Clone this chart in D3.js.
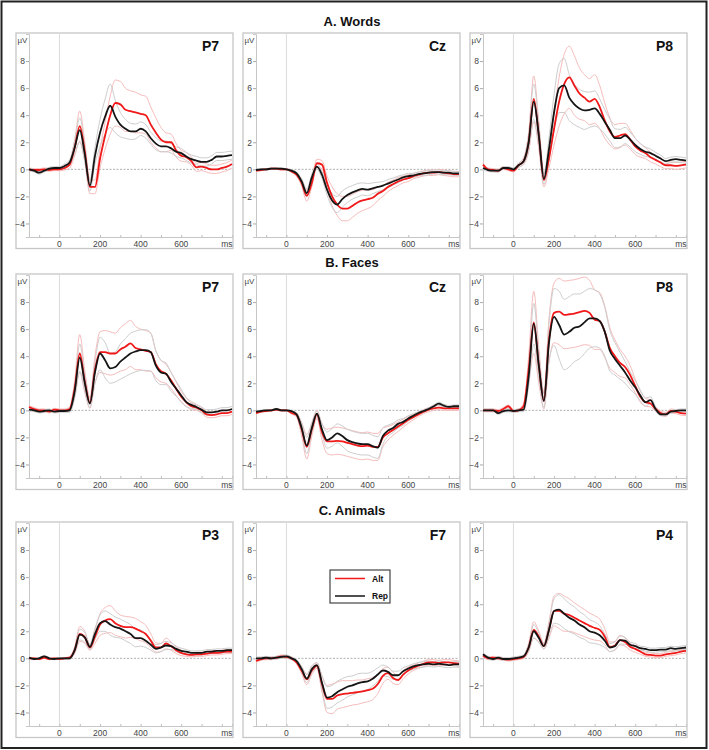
<!DOCTYPE html>
<html>
<head>
<meta charset="utf-8">
<script src="https://cdn.jsdelivr.net/npm/d3@7"></script>
<style>
  body { margin: 0; background: #fff; }
  svg { font-family: "Liberation Sans", Arial, sans-serif; }
</style>
</head>
<body>
<svg id="chart" width="709" height="750"></svg>
<script>
// sample times (ms)
const TIMES = [-150, -125, -100, -75, -50, -25, 0, 25, 50, 75, 100, 125, 150, 175, 200, 225, 250, 275, 300, 325,
  350, 375, 400, 425, 450, 475, 500, 525, 550, 575, 600, 625, 650, 675, 700, 725, 750, 775, 800, 825, 850];

const ROW_TITLES = ["A. Words", "B. Faces", "C. Animals"];
const ELECTRODES = [["P7", "Cz", "P8"], ["P7", "Cz", "P8"], ["P3", "F7", "P4"]];
const X_TICKS = [0, 200, 400, 600];
const Y_TICKS = [-4, -2, 0, 2, 4, 6, 8];
const LEGEND_LABELS = ["Alt", "Rep"];

// ---- A. Words ----
const wordsP7Alt = [0, -0.05, -0.05, 0, -0.05, 0, 0, 0.1, 0.35, 1.6, 3.2, 1.3, -1.3, -1.3, 0.8, 2.5, 4.0, 4.9, 4.8, 4.4, 4.3, 4.2, 4.1, 4.0, 3.3, 2.7, 2.2, 2.0, 2.0, 1.4, 1.0, 0.9, 0.6, 0.15, 0.2, 0.1, 0.0, 0.0, 0.1, 0.2, 0.4];
const wordsP7Rep = [0, -0.1, -0.25, -0.1, 0.05, 0.1, 0.1, 0.25, 0.5, 1.6, 2.9, 1.1, -1.2, 1.0, 2.7, 3.9, 4.7, 3.9, 3.3, 3.0, 2.8, 2.8, 3.0, 2.8, 2.3, 1.9, 1.7, 1.7, 1.55, 1.3, 1.2, 0.95, 0.75, 0.65, 0.55, 0.55, 0.7, 0.95, 0.95, 1.0, 1.05];
const wordsP7AltSem = [0.1, 0.1, 0.1, 0.1, 0.1, 0.1, 0.1, 0.15, 0.25, 0.6, 1.1, 0.7, 0.5, 0.5, 0.7, 1.0, 1.4, 1.7, 1.7, 1.6, 1.5, 1.5, 1.4, 1.4, 1.3, 1.1, 0.9, 0.7, 0.6, 0.5, 0.4, 0.35, 0.3, 0.3, 0.3, 0.3, 0.3, 0.3, 0.3, 0.3, 0.3];
const wordsP7RepSem = [0.1, 0.1, 0.1, 0.1, 0.1, 0.1, 0.1, 0.15, 0.2, 0.45, 0.9, 0.6, 0.4, 0.6, 1.0, 1.3, 1.6, 1.2, 0.9, 0.7, 0.6, 0.55, 0.5, 0.5, 0.45, 0.45, 0.4, 0.4, 0.35, 0.35, 0.35, 0.3, 0.3, 0.3, 0.3, 0.3, 0.3, 0.3, 0.3, 0.3, 0.3];

const wordsCzAlt = [-0.1, -0.05, 0, 0.05, 0.05, 0, 0, -0.15, -0.4, -1.0, -1.95, -1.0, 0.45, 0.35, -1.0, -2.0, -2.6, -2.9, -2.9, -2.7, -2.45, -2.3, -2.2, -2.1, -1.8, -1.6, -1.3, -1.1, -0.9, -0.75, -0.65, -0.5, -0.4, -0.3, -0.25, -0.25, -0.2, -0.25, -0.3, -0.35, -0.35];
const wordsCzRep = [-0.05, 0, 0, 0.05, 0.05, 0.05, 0, -0.1, -0.3, -0.9, -1.75, -0.6, 0.2, -0.4, -1.5, -2.3, -2.6, -2.2, -1.9, -1.7, -1.55, -1.45, -1.5, -1.4, -1.3, -1.2, -1.05, -0.9, -0.75, -0.6, -0.5, -0.45, -0.35, -0.3, -0.25, -0.2, -0.2, -0.25, -0.25, -0.3, -0.3];
const wordsCzAltSem = [0.05, 0.05, 0.05, 0.05, 0.05, 0.05, 0.05, 0.08, 0.12, 0.25, 0.4, 0.3, 0.3, 0.3, 0.5, 0.7, 0.8, 0.9, 0.9, 0.85, 0.8, 0.75, 0.7, 0.6, 0.5, 0.4, 0.35, 0.3, 0.3, 0.25, 0.25, 0.2, 0.2, 0.2, 0.2, 0.2, 0.2, 0.2, 0.2, 0.2, 0.2];
const wordsCzRepSem = [0.05, 0.05, 0.05, 0.05, 0.05, 0.05, 0.05, 0.08, 0.1, 0.2, 0.3, 0.25, 0.2, 0.25, 0.4, 0.5, 0.6, 0.6, 0.55, 0.5, 0.5, 0.45, 0.45, 0.4, 0.35, 0.3, 0.3, 0.25, 0.25, 0.2, 0.2, 0.15, 0.15, 0.15, 0.15, 0.15, 0.15, 0.15, 0.15, 0.15, 0.15];

const wordsP8Alt = [0.35, 0, -0.05, -0.1, 0.1, 0, -0.1, 0.3, 0.6, 2.0, 5.2, 2.5, -0.8, 0.8, 3.0, 5.0, 6.3, 6.8, 6.2, 5.6, 5.3, 5.0, 5.2, 4.6, 3.6, 2.8, 2.4, 2.5, 2.6, 2.2, 1.7, 1.4, 1.2, 0.9, 0.7, 0.5, 0.3, 0.3, 0.25, 0.3, 0.35];
const wordsP8Rep = [0.1, -0.05, -0.1, -0.1, 0.1, 0.1, 0, 0.3, 0.6, 2.0, 5.0, 2.5, -0.7, 1.5, 4.2, 6.0, 6.2, 5.3, 4.8, 4.5, 4.35, 4.4, 4.5, 4.1, 3.5, 2.9, 2.3, 2.3, 2.5, 2.2, 1.8, 1.5, 1.3, 1.2, 1.0, 0.8, 0.6, 0.7, 0.75, 0.7, 0.65];
const wordsP8AltSem = [0.1, 0.1, 0.1, 0.1, 0.1, 0.1, 0.1, 0.15, 0.25, 0.7, 1.7, 1.0, 0.5, 0.7, 1.2, 1.8, 2.2, 2.3, 2.2, 1.9, 1.7, 1.7, 1.8, 1.6, 1.3, 1.0, 0.9, 0.9, 0.8, 0.7, 0.6, 0.5, 0.4, 0.35, 0.3, 0.3, 0.25, 0.25, 0.25, 0.25, 0.25];
const wordsP8RepSem = [0.1, 0.1, 0.1, 0.1, 0.1, 0.1, 0.1, 0.15, 0.2, 0.6, 1.3, 0.8, 0.4, 0.8, 1.3, 1.8, 2.0, 1.7, 1.5, 1.4, 1.4, 1.3, 1.3, 1.1, 0.9, 0.8, 0.7, 0.65, 0.6, 0.55, 0.5, 0.4, 0.35, 0.3, 0.25, 0.25, 0.2, 0.2, 0.2, 0.2, 0.2];

// ---- B. Faces ----
const facesP7Alt = [0.25, 0.1, 0, 0, -0.1, 0.05, 0, 0, 0.1, 1.6, 4.2, 2.1, 0.55, 3.0, 4.3, 4.3, 4.2, 4.2, 4.5, 4.7, 4.95, 4.6, 4.5, 4.4, 4.3, 3.4, 2.9, 2.7, 2.2, 1.6, 1.0, 0.6, 0.3, 0.2, 0, -0.3, -0.35, -0.3, -0.2, -0.2, -0.1];
const facesP7Rep = [0.05, 0, -0.1, -0.05, 0, -0.1, -0.05, -0.05, 0, 1.4, 3.9, 2.0, 0.5, 2.8, 4.2, 3.7, 3.1, 3.2, 3.6, 3.9, 4.2, 4.35, 4.45, 4.45, 4.3, 3.3, 2.8, 2.7, 2.1, 1.6, 1.1, 0.6, 0.4, 0.25, 0.05, -0.15, -0.15, -0.1, 0, 0, 0.1];
const facesP7AltSem = [0.1, 0.1, 0.1, 0.1, 0.1, 0.1, 0.1, 0.1, 0.15, 0.6, 1.4, 0.8, 0.4, 1.0, 1.5, 1.6, 1.6, 1.5, 1.6, 1.7, 1.7, 1.6, 1.5, 1.5, 1.4, 1.0, 0.8, 0.7, 0.6, 0.5, 0.4, 0.3, 0.25, 0.2, 0.2, 0.2, 0.2, 0.2, 0.2, 0.2, 0.2];
const facesP7RepSem = [0.1, 0.1, 0.1, 0.1, 0.1, 0.1, 0.1, 0.1, 0.15, 0.5, 1.0, 0.6, 0.3, 0.8, 1.2, 1.3, 1.1, 1.1, 1.3, 1.4, 1.5, 1.5, 1.5, 1.5, 1.4, 1.1, 0.9, 0.8, 0.7, 0.55, 0.45, 0.35, 0.25, 0.2, 0.2, 0.2, 0.2, 0.2, 0.2, 0.2, 0.2];

const facesCzAlt = [-0.2, -0.1, -0.05, 0, 0.05, 0, 0, -0.2, -0.35, -1.4, -2.7, -1.4, -0.3, -1.6, -2.3, -2.3, -2.25, -2.3, -2.4, -2.5, -2.6, -2.65, -2.6, -2.7, -2.7, -2.0, -1.7, -1.45, -1.2, -0.95, -0.7, -0.5, -0.3, -0.1, 0.05, 0.15, 0.2, 0.15, 0.15, 0.15, 0.15];
const facesCzRep = [-0.1, -0.05, 0, 0, 0.1, 0, 0, -0.05, -0.3, -1.3, -2.6, -1.3, -0.25, -1.4, -2.2, -2.0, -1.7, -1.9, -2.2, -2.35, -2.45, -2.5, -2.5, -2.65, -2.75, -1.9, -1.5, -1.3, -1.0, -0.85, -0.6, -0.4, -0.2, -0.05, 0.1, 0.3, 0.5, 0.35, 0.25, 0.3, 0.3];
const facesCzAltSem = [0.05, 0.05, 0.05, 0.05, 0.05, 0.05, 0.05, 0.08, 0.15, 0.5, 0.9, 0.5, 0.3, 0.6, 0.9, 1.0, 1.0, 1.0, 1.0, 1.0, 1.0, 1.0, 1.0, 1.0, 1.0, 0.7, 0.5, 0.4, 0.35, 0.3, 0.25, 0.2, 0.15, 0.15, 0.15, 0.15, 0.15, 0.15, 0.15, 0.15, 0.15];
const facesCzRepSem = [0.05, 0.05, 0.05, 0.05, 0.05, 0.05, 0.05, 0.05, 0.1, 0.35, 0.6, 0.35, 0.2, 0.4, 0.6, 0.65, 0.7, 0.75, 0.8, 0.8, 0.8, 0.8, 0.8, 0.8, 0.8, 0.6, 0.4, 0.35, 0.3, 0.25, 0.2, 0.15, 0.1, 0.1, 0.1, 0.1, 0.1, 0.1, 0.1, 0.1, 0.1];

const facesP8Alt = [0, 0, 0, -0.05, 0.1, 0.3, -0.05, 0, 0.3, 3.0, 6.5, 3.3, 0.7, 5.2, 7.2, 7.3, 7.05, 7.1, 7.15, 7.25, 7.35, 7.2, 6.7, 6.6, 5.8, 4.6, 4.0, 3.5, 3.2, 2.6, 1.8, 1.0, 0.6, 0.5, 0.1, -0.2, -0.3, -0.05, -0.1, -0.2, -0.25];
const facesP8Rep = [0, 0, 0, -0.2, -0.05, 0, -0.05, 0, 0.05, 2.5, 6.4, 3.3, 0.7, 5.0, 6.9, 6.3, 5.6, 5.8, 6.1, 6.2, 6.5, 6.8, 6.8, 6.6, 5.8, 4.4, 3.8, 3.3, 2.8, 2.2, 1.7, 1.1, 0.6, 0.75, 0.1, -0.3, -0.3, -0.1, -0.05, 0, 0];
const facesP8AltSem = [0.1, 0.1, 0.1, 0.1, 0.1, 0.1, 0.1, 0.1, 0.2, 1.0, 2.3, 1.3, 0.6, 1.6, 2.2, 2.45, 2.5, 2.5, 2.5, 2.5, 2.5, 2.4, 2.2, 2.1, 1.9, 1.5, 1.2, 1.0, 0.8, 0.7, 0.5, 0.4, 0.3, 0.25, 0.15, 0.15, 0.15, 0.15, 0.15, 0.15, 0.15];
const facesP8RepSem = [0.1, 0.1, 0.1, 0.1, 0.1, 0.1, 0.1, 0.1, 0.15, 0.7, 1.5, 0.9, 0.5, 1.4, 2.1, 2.5, 2.6, 2.6, 2.5, 2.4, 2.3, 2.2, 2.1, 2.0, 1.8, 1.5, 1.2, 1.0, 0.8, 0.65, 0.5, 0.4, 0.3, 0.25, 0.15, 0.1, 0.1, 0.1, 0.1, 0.1, 0.1];

// ---- C. Animals ----
const animalsP3Alt = [0, 0, -0.05, 0.05, -0.05, 0, -0.05, 0, 0.05, 0.6, 1.8, 1.55, 0.8, 1.6, 2.5, 2.8, 2.9, 2.6, 2.4, 2.3, 2.3, 2.2, 2.0, 1.8, 1.3, 0.8, 0.8, 1.1, 0.9, 0.6, 0.4, 0.3, 0.25, 0.3, 0.3, 0.35, 0.4, 0.4, 0.45, 0.5, 0.5];
const animalsP3Rep = [0.05, -0.05, 0, 0.15, 0, -0.05, 0, 0, 0, 0.6, 1.75, 1.55, 0.85, 1.8, 2.6, 2.75, 2.5, 2.3, 2.2, 2.0, 1.8, 1.5, 1.5, 1.3, 1.0, 0.7, 0.8, 0.95, 0.9, 0.7, 0.55, 0.5, 0.4, 0.4, 0.4, 0.5, 0.5, 0.55, 0.55, 0.6, 0.6];
const animalsP3AltSem = [0.05, 0.05, 0.05, 0.05, 0.05, 0.05, 0.05, 0.05, 0.08, 0.25, 0.55, 0.45, 0.2, 0.5, 0.8, 0.95, 1.0, 0.9, 0.8, 0.8, 0.75, 0.75, 0.7, 0.65, 0.5, 0.35, 0.3, 0.4, 0.3, 0.25, 0.2, 0.15, 0.15, 0.15, 0.15, 0.15, 0.15, 0.15, 0.15, 0.15, 0.15];
const animalsP3RepSem = [0.05, 0.05, 0.05, 0.05, 0.05, 0.05, 0.05, 0.05, 0.08, 0.2, 0.4, 0.35, 0.2, 0.4, 0.6, 0.75, 0.8, 0.75, 0.7, 0.7, 0.7, 0.65, 0.6, 0.5, 0.4, 0.3, 0.3, 0.3, 0.25, 0.2, 0.2, 0.15, 0.15, 0.15, 0.15, 0.15, 0.15, 0.15, 0.15, 0.15, 0.15];

const animalsF7Alt = [-0.2, -0.05, 0, 0, 0.05, 0.15, 0.1, 0, -0.3, -0.9, -1.55, -0.9, -0.55, -1.9, -3.0, -3.0, -2.75, -2.65, -2.6, -2.55, -2.5, -2.45, -2.35, -2.25, -1.9, -1.3, -1.1, -1.45, -1.6, -1.2, -0.9, -0.7, -0.55, -0.4, -0.3, -0.3, -0.35, -0.3, -0.3, -0.35, -0.4];
const animalsF7Rep = [0, 0, 0.05, 0, 0.05, 0.1, 0.15, 0, -0.2, -0.8, -1.5, -0.8, -0.5, -1.8, -2.9, -2.8, -2.5, -2.3, -2.1, -2.0, -1.85, -1.75, -1.7, -1.5, -1.2, -0.9, -1.0, -1.25, -1.25, -0.95, -0.75, -0.6, -0.5, -0.45, -0.4, -0.45, -0.4, -0.45, -0.5, -0.45, -0.45];
const animalsF7AltSem = [0.1, 0.1, 0.1, 0.1, 0.1, 0.1, 0.1, 0.1, 0.12, 0.25, 0.4, 0.3, 0.2, 0.6, 1.0, 1.1, 1.0, 1.0, 0.95, 0.9, 0.9, 0.85, 0.85, 0.8, 0.7, 0.55, 0.45, 0.4, 0.35, 0.3, 0.25, 0.2, 0.2, 0.2, 0.2, 0.2, 0.2, 0.2, 0.2, 0.2, 0.2];
const animalsF7RepSem = [0.1, 0.1, 0.1, 0.1, 0.1, 0.1, 0.1, 0.1, 0.1, 0.2, 0.3, 0.25, 0.2, 0.5, 0.8, 0.8, 0.8, 0.8, 0.75, 0.7, 0.7, 0.65, 0.6, 0.55, 0.5, 0.4, 0.35, 0.3, 0.3, 0.25, 0.2, 0.2, 0.2, 0.2, 0.2, 0.2, 0.2, 0.2, 0.2, 0.2, 0.2];

const animalsP4Alt = [0.2, 0, 0.05, 0, -0.05, -0.1, -0.05, 0, 0.1, 0.8, 2.1, 1.6, 0.9, 2.1, 3.5, 3.5, 3.3, 3.2, 3.0, 2.8, 2.6, 2.4, 2.25, 2.1, 1.6, 0.85, 0.95, 1.35, 1.2, 0.85, 0.7, 0.5, 0.3, 0.25, 0.2, 0.2, 0.3, 0.35, 0.4, 0.5, 0.55];
const animalsP4Rep = [0.3, 0.05, -0.05, 0.05, -0.05, -0.05, 0, 0.05, 0.15, 0.8, 2.0, 1.5, 0.9, 2.1, 3.5, 3.6, 3.3, 3.0, 2.8, 2.5, 2.3, 2.0, 1.9, 1.7, 1.3, 0.8, 0.9, 1.35, 1.3, 1.0, 0.9, 0.75, 0.7, 0.6, 0.6, 0.65, 0.65, 0.75, 0.7, 0.75, 0.8];
const animalsP4AltSem = [0.1, 0.1, 0.1, 0.1, 0.1, 0.1, 0.1, 0.1, 0.12, 0.3, 0.6, 0.4, 0.2, 0.6, 1.1, 1.3, 1.3, 1.2, 1.1, 1.05, 1.0, 0.95, 0.9, 0.8, 0.6, 0.35, 0.3, 0.35, 0.3, 0.25, 0.25, 0.2, 0.15, 0.15, 0.15, 0.15, 0.15, 0.15, 0.15, 0.15, 0.15];
const animalsP4RepSem = [0.1, 0.1, 0.1, 0.1, 0.1, 0.1, 0.1, 0.1, 0.1, 0.25, 0.5, 0.35, 0.2, 0.5, 0.9, 1.1, 1.1, 1.05, 1.0, 0.95, 0.9, 0.85, 0.8, 0.7, 0.5, 0.3, 0.3, 0.3, 0.25, 0.2, 0.2, 0.15, 0.15, 0.15, 0.15, 0.15, 0.15, 0.15, 0.15, 0.15, 0.15];

const panels = [
  [wordsP7Alt, wordsP7Rep, wordsP7AltSem, wordsP7RepSem],
  [wordsCzAlt, wordsCzRep, wordsCzAltSem, wordsCzRepSem],
  [wordsP8Alt, wordsP8Rep, wordsP8AltSem, wordsP8RepSem],
  [facesP7Alt, facesP7Rep, facesP7AltSem, facesP7RepSem],
  [facesCzAlt, facesCzRep, facesCzAltSem, facesCzRepSem],
  [facesP8Alt, facesP8Rep, facesP8AltSem, facesP8RepSem],
  [animalsP3Alt, animalsP3Rep, animalsP3AltSem, animalsP3RepSem],
  [animalsF7Alt, animalsF7Rep, animalsF7AltSem, animalsF7RepSem],
  [animalsP4Alt, animalsP4Rep, animalsP4AltSem, animalsP4RepSem]
];

const RED = "#f01818", BLACK = "#151515";
const RED_LIGHT = "#f6bcbc", GRAY_LIGHT = "#cdcdcd";

const svg = d3.select("#chart");

// outer border
svg.append("rect")
  .attr("x", 1.5).attr("y", 1.5)
  .attr("width", 705).attr("height", 746.5)
  .attr("fill", "none")
  .attr("stroke", "#222")
  .attr("stroke-width", 2);

const frameLeft = [16, 243, 470];
const frameTop = [33, 274, 522];
const frameW = 217, frameH = 215.5;

// row titles
ROW_TITLES.forEach((t, i) => {
  svg.append("text")
    .attr("x", 352)
    .attr("y", frameTop[i] - 7)
    .attr("text-anchor", "middle")
    .style("font-size", "13px")
    .style("font-weight", "bold")
    .style("fill", "#111")
    .text(t);
});

panels.forEach((p, k) => {
  const row = Math.floor(k / 3), col = k % 3;
  const fl = frameLeft[col], ft = frameTop[row];
  const [alt, rep, altSem, repSem] = p;

  const x = d3.scaleLinear().domain([-150, 850]).range([fl + 13, fl + 216]);
  const y = d3.scaleLinear().domain([-5, 10]).range([ft + 204, ft + 1]);

  const g = svg.append("g");

  // panel frame
  g.append("rect")
    .attr("x", fl).attr("y", ft)
    .attr("width", frameW).attr("height", frameH)
    .attr("fill", "#fff")
    .attr("stroke", "#c6c6c6")
    .attr("stroke-width", 1.3);

  // zero time line
  g.append("line")
    .attr("x1", x(0)).attr("x2", x(0))
    .attr("y1", y(10)).attr("y2", y(-5))
    .attr("stroke", "#dcdcdc")
    .attr("stroke-width", 1);

  // zero voltage line
  g.append("line")
    .attr("x1", x(-150)).attr("x2", x(850))
    .attr("y1", y(0)).attr("y2", y(0))
    .attr("stroke", "#9a9a9a")
    .attr("stroke-width", 0.8)
    .attr("stroke-dasharray", "2,1.5");

  // y axis
  const yAxis = d3.axisLeft(y).tickValues(Y_TICKS).tickSize(3).tickFormat(d3.format("d"));
  const ya = g.append("g")
    .attr("transform", `translate(${x(-150)},0)`)
    .call(yAxis);
  ya.select(".domain").attr("stroke", "#c6c6c6");
  ya.selectAll(".tick line").attr("stroke", "#aaa");
  ya.selectAll(".tick text")
    .attr("x", -4)
    .style("font-family", "Liberation Sans, Arial, sans-serif")
    .style("font-size", "8.5px")
    .style("fill", "#444");

  // x axis
  const xAxis = d3.axisBottom(x).tickValues(d3.range(-100, 851, 100)).tickSize(-2).tickFormat("");
  const xa = g.append("g")
    .attr("transform", `translate(0,${y(-5)})`)
    .call(xAxis);
  xa.select(".domain").attr("stroke", "#c6c6c6");
  xa.selectAll(".tick line").attr("stroke", "#bbb");

  X_TICKS.forEach(t => {
    g.append("text")
      .attr("x", x(t))
      .attr("y", ft + 213.5)
      .attr("text-anchor", "middle")
      .style("font-size", "8.5px")
      .style("fill", "#444")
      .text(t);
  });
  g.append("text")
    .attr("x", fl + 216.5)
    .attr("y", ft + 213.5)
    .attr("text-anchor", "end")
    .style("font-size", "8.5px")
    .style("fill", "#444")
    .text("ms");
  g.append("text")
    .attr("x", fl + 1.5)
    .attr("y", ft + 10)
    .style("font-size", "8px")
    .style("fill", "#444")
    .text("µV");

  // electrode label
  g.append("text")
    .attr("x", fl + 203)
    .attr("y", ft + 17.5)
    .attr("text-anchor", "end")
    .style("font-size", "14px")
    .style("font-weight", "bold")
    .style("fill", "#111")
    .text(ELECTRODES[row][col]);

  const line = d3.line()
    .x(d => x(d[0]))
    .y(d => y(d[1]))
    .curve(d3.curveMonotoneX);

  const series = (vals, sem, sign) => TIMES.map((t, i) => [t, vals[i] + sign * sem[i]]);

  // bounds
  [[alt, altSem, RED_LIGHT], [rep, repSem, GRAY_LIGHT]].forEach(([vals, sem, c]) => {
    [1, -1].forEach(s => {
      g.append("path")
        .datum(series(vals, sem, s))
        .attr("d", line)
        .attr("fill", "none")
        .attr("stroke", c)
        .attr("stroke-width", 1);
    });
  });

  // means
  g.append("path")
    .datum(series(alt, altSem, 0))
    .attr("d", line)
    .attr("fill", "none")
    .attr("stroke", RED)
    .attr("stroke-width", 1.8);
  g.append("path")
    .datum(series(rep, repSem, 0))
    .attr("d", line)
    .attr("fill", "none")
    .attr("stroke", BLACK)
    .attr("stroke-width", 1.8);
});

// legend (inside F7 panel)
const lg = svg.append("g").attr("transform", "translate(330,570)");
lg.append("rect")
  .attr("width", 60).attr("height", 33)
  .attr("fill", "#fff")
  .attr("stroke", "#444")
  .attr("stroke-width", 1.2);
[RED, BLACK].forEach((c, i) => {
  const yy = 8.5 + i * 17.5;
  lg.append("line")
    .attr("x1", 5).attr("x2", 35)
    .attr("y1", yy).attr("y2", yy)
    .attr("stroke", c)
    .attr("stroke-width", 1.5);
  lg.append("text")
    .attr("x", 42)
    .attr("y", yy + 3)
    .style("font-size", "8.5px")
    .style("font-weight", "bold")
    .style("fill", "#111")
    .text(LEGEND_LABELS[i]);
});
</script>
</body>
</html>
